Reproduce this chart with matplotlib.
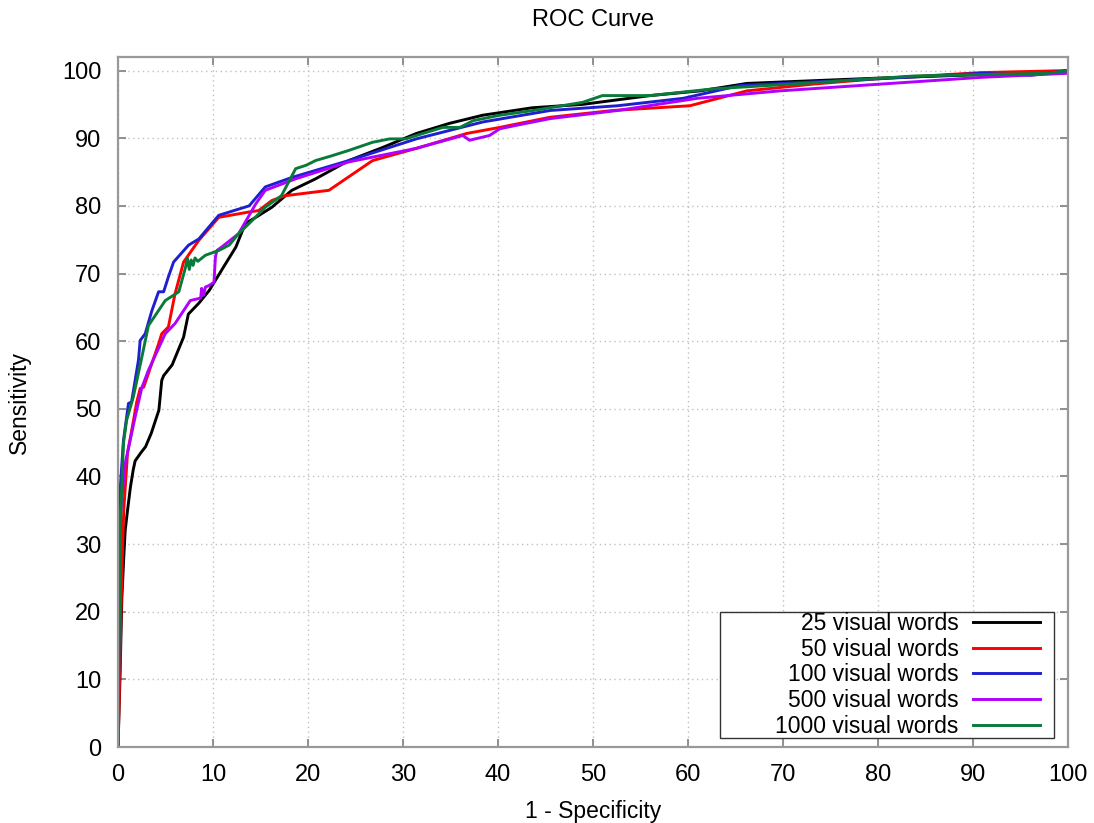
import matplotlib
matplotlib.use('Agg')
import matplotlib.pyplot as plt
from matplotlib.patches import Rectangle

plt.rcParams['font.family'] = ['Liberation Sans', 'DejaVu Sans']

# curvas ROC (1 - especificidade, sensibilidade) em %
fpr_25 = [0, 0.2, 0.4, 0.6, 0.75, 1.0, 1.3, 1.6, 1.8, 2.4, 2.9, 3.5, 4.3, 4.6, 4.8, 5.7,
          6.9, 7.4, 8.5, 9.6, 11.3, 12.4, 13.4, 14.5, 16.2, 18.3, 20.8, 24.3, 27.8, 31.4,
          34.9, 38.4, 43.6, 48.9, 56.0, 61.3, 66.2, 73.2, 80.3, 90.9, 97.9, 100]
tpr_25 = [0, 10, 22, 28, 32, 35, 38.4, 41.0, 42.3, 43.5, 44.4, 46.4, 49.8, 54.2, 54.9, 56.5,
          60.6, 64.0, 65.6, 67.5, 71.4, 73.9, 77.4, 78.3, 79.8, 82.3, 84.0, 86.7, 88.6, 90.7,
          92.2, 93.4, 94.5, 95.0, 96.3, 97.0, 98.1, 98.5, 98.9, 99.4, 99.6, 100]

fpr_50 = [0, 0.2, 0.4, 0.6, 1.0, 1.4, 1.97, 2.33, 2.7, 4.27, 4.6, 5.3, 6.0, 6.9, 8.5, 10.6,
          13.8, 14.8, 16.2, 17.6, 22.2, 26.8, 31.4, 36.7, 40.2, 45.5, 52.1, 60.2, 66.2,
          73.2, 80.0, 90.9, 100]
tpr_50 = [0, 12, 26, 35, 43.5, 46.5, 51.0, 53.0, 53.2, 59.6, 61.1, 62.1, 67.0, 71.7, 74.9, 78.3,
          79.1, 79.3, 80.8, 81.5, 82.3, 86.7, 88.5, 90.7, 91.6, 93.1, 94.1, 94.8, 97.0,
          98.0, 98.8, 99.7, 100]

fpr_100 = [0, 0.04, 0.1, 0.15, 0.22, 0.57, 1.1, 1.42, 1.6, 2.15, 2.33, 2.86, 3.56, 4.27, 4.8,
           5.3, 5.85, 7.43, 8.5, 10.6, 13.8, 15.5, 18.3, 24.3, 31.4, 38.4, 45.5, 52.6, 59.5,
           65.5, 80.3, 90.9, 96.1, 100]
tpr_100 = [0, 4, 15, 28, 38, 45.3, 50.8, 51.0, 52.5, 57.2, 60.1, 61.1, 64.5, 67.3, 67.3,
           69.5, 71.7, 74.2, 75.1, 78.6, 80.0, 82.8, 84.2, 86.7, 89.9, 92.4, 94.1, 94.8, 95.9,
           97.8, 98.8, 99.6, 99.3, 100]

fpr_500 = [0, 0.05, 0.1, 0.75, 1.8, 2.5, 3.2, 4.97, 6.0, 7.6, 8.5, 8.7, 8.8, 9.0, 9.2, 9.55,
           10.1, 10.25, 10.4, 10.9, 12.7, 14.5, 15.5, 18.7, 24.3, 31.4, 36.3, 37.0, 39.1,
           40.2, 41.9, 45.5, 52.6, 61.0, 69.7, 80.3, 90.9, 100]
tpr_500 = [0, 20, 32, 41.9, 48.8, 53.1, 55.7, 61.1, 62.6, 66.0, 66.3, 66.4, 67.8, 66.8, 68.0, 68.2,
           68.7, 72.4, 73.4, 73.9, 75.9, 80.3, 82.3, 84.0, 86.5, 88.5, 90.4, 89.7, 90.4,
           91.4, 91.9, 92.9, 94.1, 95.9, 97.0, 98.0, 99.0, 99.6]

fpr_1000 = [0, 0.1, 0.3, 0.57, 0.9, 1.6, 2.5, 3.2, 4.97, 6.4, 7.1, 7.3, 7.5, 7.7, 7.9, 8.1,
            8.4, 9.2, 10.6, 11.7, 12.7, 14.1, 15.5, 17.2, 18.7, 19.8, 20.8, 22.5, 24.3, 26.8,
            28.6, 30.3, 32.1, 34.2, 36.0, 37.4, 40.2, 43.7, 48.9, 51.0, 56.0, 62.7, 73.2,
            83.8, 97.9, 100]
tpr_1000 = [0, 15, 35, 44.9, 48.3, 51.7, 57.6, 62.3, 66.0, 67.3, 70.9, 72.3, 70.6, 72.0, 71.2, 72.3,
            71.8, 72.7, 73.4, 74.2, 75.9, 77.8, 79.8, 81.5, 85.5, 86.0, 86.7, 87.4, 88.2, 89.4,
            89.9, 89.9, 90.7, 91.6, 91.6, 92.6, 93.4, 94.1, 95.3, 96.3, 96.3, 97.3, 98.2,
            99.2, 99.6, 100]

labels = ['25 visual words', '50 visual words', '100 visual words',
          '500 visual words', '1000 visual words']
cores = ['#000000', '#ff0000', '#1f1fd0', '#b000ff', '#0a7a3a']
curvas = [(fpr_25, tpr_25), (fpr_50, tpr_50), (fpr_100, tpr_100),
          (fpr_500, tpr_500), (fpr_1000, tpr_1000)]

fig = plt.figure(figsize=(10.94, 8.23), dpi=100)
ax = fig.add_axes([0.1079, 0.0923, 0.9762 - 0.1079, 0.9307 - 0.0923])

for (x, y), cor, lab in zip(curvas, cores, labels):
    ax.plot(x, y, color=cor, linewidth=2.1, label=lab)

ax.set_xlim(0, 100)
ax.set_ylim(0, 102)
ax.set_xticks(range(0, 101, 10))
ax.set_yticks(range(0, 101, 10))
ax.grid(True, linestyle=(0, (1, 2.5)), color='#c0c0c0', linewidth=1.0)
ax.tick_params(direction='in', length=6, width=1.3, color='#888888',
               top=True, right=True, labelsize=17, pad=12)
for lado in ax.spines.values():
    lado.set_color('#999999')
    lado.set_linewidth(1.6)

ax.set_title('ROC Curve', fontsize=17, pad=22)
ax.set_xlabel('1 - Specificity', fontsize=16.5, labelpad=10)
ax.set_ylabel('Sensitivity', fontsize=16.5, labelpad=22)

# caixa da legenda (estilo gnuplot, com folga à esquerda)
caixa = Rectangle((0.6337, 0.013), 0.9853 - 0.6337, 0.1957 - 0.013,
                  transform=ax.transAxes, facecolor='white', edgecolor='#333333',
                  linewidth=1.0, zorder=4.5, clip_on=False)
ax.add_patch(caixa)

leg = ax.legend(loc='lower right', bbox_to_anchor=(0.9705, 0.0135), borderaxespad=0,
                fontsize=16.5, markerfirst=False, handlelength=2.9, handletextpad=0.65,
                labelspacing=0.115, borderpad=0, frameon=False)
leg.set_zorder(5)

plt.savefig('out.png', dpi=100)
